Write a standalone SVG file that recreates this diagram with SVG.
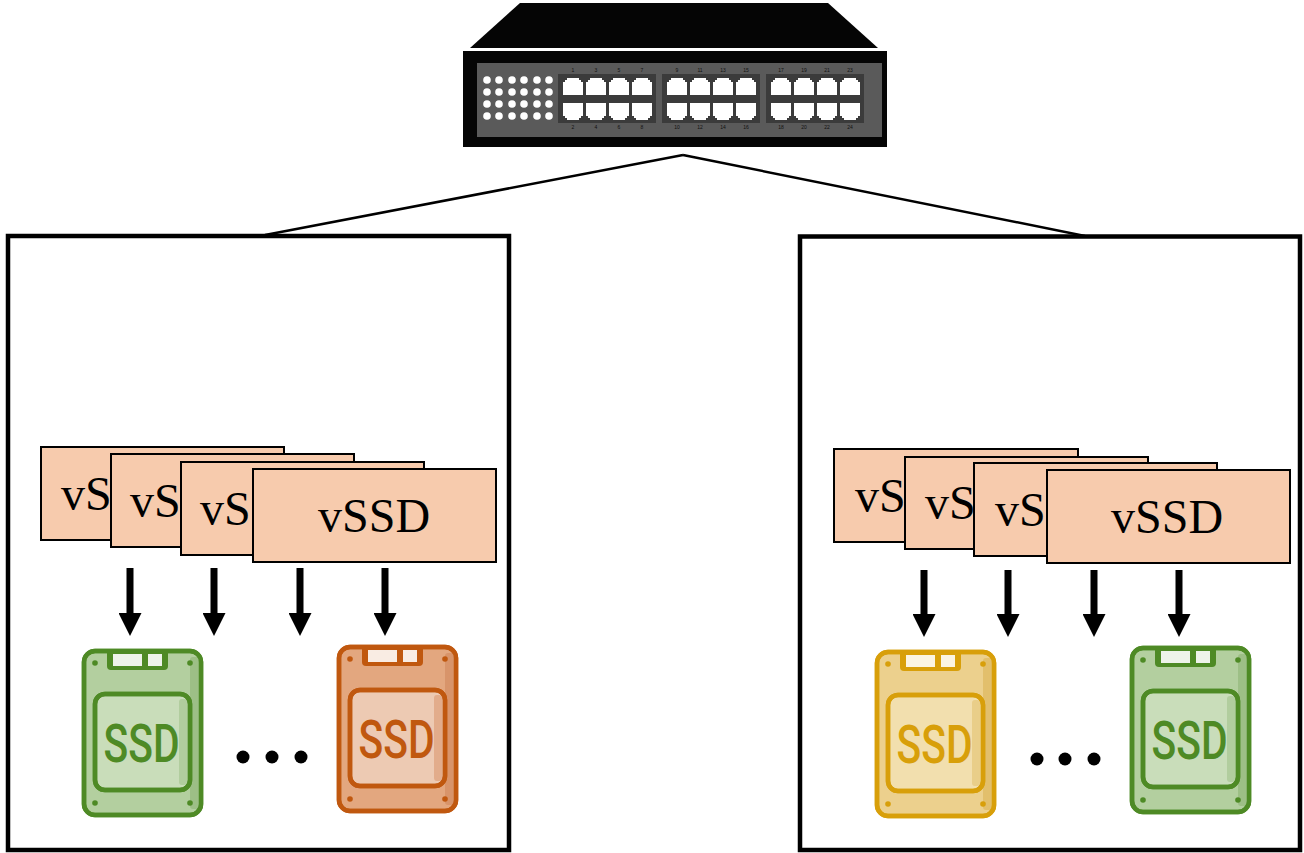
<svg xmlns="http://www.w3.org/2000/svg" xmlns:xlink="http://www.w3.org/1999/xlink" width="1304" height="853" viewBox="0 0 1304 853">
  <style>
    .host { fill: none; stroke: #000; stroke-width: 4.5; }
    .link { fill: none; stroke: #000; stroke-width: 2.5; }
    .vbox { fill: #f7cbad; stroke: #000; stroke-width: 2; }
    .vtxt { font-family: "Liberation Serif", "Times New Roman", serif; font-size: 48px; fill: #000; }
    .map { stroke: #000; stroke-width: 7; marker-end: url(#head); }
    .dot { fill: #000; }
    .panel { fill: #5a5a5a; }
    .bay { fill: #3b3b3b; }
    .led { fill: #fff; }
    .port { fill: #fff; }
    .pnum { font-family: "Liberation Sans", Arial, sans-serif; font-size: 5px; fill: #111; text-anchor: middle; }
    .ssd-body { fill: var(--body); stroke: var(--ink); stroke-width: 4.5; }
    .ssd-shade { fill: var(--shade); }
    .ssd-inner { fill: var(--inner); stroke: var(--ink); stroke-width: 4.5; }
    .ssd-ink { fill: var(--ink); }
    .ssd-light { fill: var(--light); }
    .ssd-label { font-family: Roboto, "DejaVu Sans", sans-serif; font-weight: 500; font-size: 53px; fill: var(--ink); text-anchor: middle; }
    .green { --ink: #4e8a25; --body: #b3cf9f; --shade: #9dbf86; --inner: #c9ddba; --light: #eef3ea; }
    .orange { --ink: #c0580f; --body: #e3a77f; --shade: #d8946a; --inner: #edcab3; --light: #f9ece3; }
    .yellow { --ink: #d89f0a; --body: #ecd08d; --shade: #e2bf6c; --inner: #f2dfae; --light: #fbf4e2; }
  </style>
  <defs>
    <marker id="head" viewBox="0 0 23 23" refX="0" refY="11.5" markerWidth="23" markerHeight="23" markerUnits="userSpaceOnUse" orient="auto">
      <path d="M0,0 L23,11.5 L0,23 Z" fill="#000"/>
    </marker>
    <!-- RJ45 sockets: tab up (upper row) and tab down (lower row) -->
    <path id="portUp" class="port" d="M4,0 H16 V2 H18 V4 H20 V17 H0 V4 H2 V2 H4 Z"/>
    <path id="portDn" class="port" d="M0,0 H20 V13 H18 V15 H16 V17 H4 V15 H2 V13 H0 Z"/>
    <!-- 2.5" SSD icon, 121 x 168 -->
    <symbol id="ssd" viewBox="0 0 121 168" width="121" height="168" overflow="visible">
      <rect class="ssd-body" x="2" y="2" width="117" height="164" rx="11"/>
      <rect class="ssd-shade" x="108" y="8" width="9" height="152" rx="3"/>
      <rect class="ssd-body" x="2" y="2" width="117" height="164" rx="11" style="fill:none"/>
      <path class="ssd-ink" d="M25,1 H86 V17 Q86,21 82,21 H29 Q25,21 25,17 Z"/>
      <rect class="ssd-light" x="31" y="5" width="29" height="12"/>
      <rect class="ssd-light" x="66" y="5" width="14" height="12"/>
      <circle class="ssd-ink" cx="13" cy="14" r="2.8"/>
      <circle class="ssd-ink" cx="108" cy="14" r="2.8"/>
      <circle class="ssd-ink" cx="13" cy="154" r="2.8"/>
      <circle class="ssd-ink" cx="108" cy="154" r="2.8"/>
      <rect class="ssd-inner" x="13" y="45" width="95" height="96" rx="10"/>
      <rect class="ssd-shade" x="97" y="50" width="8" height="86" rx="3" style="opacity:0.55"/>
      <rect class="ssd-inner" x="13" y="45" width="95" height="96" rx="10" style="fill:none"/>
      <text class="ssd-label" x="59.5" y="113" textLength="76" lengthAdjust="spacingAndGlyphs">SSD</text>
    </symbol>
  </defs>

  <!-- 24-port switch -->
  <g id="switch">
    <polygon points="520,3 828,3 878,48 470,48" fill="#050505"/>
    <rect x="463" y="51" width="424" height="96" fill="#050505"/>
    <rect class="panel" x="477" y="63" width="405" height="74"/>
    <g>
      <circle class="led" cx="487" cy="80" r="3.8"/><circle class="led" cx="499" cy="80" r="3.8"/><circle class="led" cx="512" cy="80" r="3.8"/><circle class="led" cx="524" cy="80" r="3.8"/><circle class="led" cx="537" cy="80" r="3.8"/><circle class="led" cx="549" cy="80" r="3.8"/>
      <circle class="led" cx="487" cy="92" r="3.8"/><circle class="led" cx="499" cy="92" r="3.8"/><circle class="led" cx="512" cy="92" r="3.8"/><circle class="led" cx="524" cy="92" r="3.8"/><circle class="led" cx="537" cy="92" r="3.8"/><circle class="led" cx="549" cy="92" r="3.8"/>
      <circle class="led" cx="487" cy="104" r="3.8"/><circle class="led" cx="499" cy="104" r="3.8"/><circle class="led" cx="512" cy="104" r="3.8"/><circle class="led" cx="524" cy="104" r="3.8"/><circle class="led" cx="537" cy="104" r="3.8"/><circle class="led" cx="549" cy="104" r="3.8"/>
      <circle class="led" cx="487" cy="116" r="3.8"/><circle class="led" cx="499" cy="116" r="3.8"/><circle class="led" cx="512" cy="116" r="3.8"/><circle class="led" cx="524" cy="116" r="3.8"/><circle class="led" cx="537" cy="116" r="3.8"/><circle class="led" cx="549" cy="116" r="3.8"/>
    </g>
    <g transform="translate(558,0)">
      <rect class="bay" x="0" y="74" width="98" height="49"/>
      <use href="#portUp" x="5" y="78"/><use href="#portUp" x="28" y="78"/><use href="#portUp" x="51" y="78"/><use href="#portUp" x="74" y="78"/>
      <use href="#portDn" x="5" y="103"/><use href="#portDn" x="28" y="103"/><use href="#portDn" x="51" y="103"/><use href="#portDn" x="74" y="103"/>
      <text class="pnum" x="15" y="72">1</text><text class="pnum" x="38" y="72">3</text><text class="pnum" x="61" y="72">5</text><text class="pnum" x="84" y="72">7</text>
      <text class="pnum" x="15" y="129">2</text><text class="pnum" x="38" y="129">4</text><text class="pnum" x="61" y="129">6</text><text class="pnum" x="84" y="129">8</text>
    </g>
    <g transform="translate(662,0)">
      <rect class="bay" x="0" y="74" width="98" height="49"/>
      <use href="#portUp" x="5" y="78"/><use href="#portUp" x="28" y="78"/><use href="#portUp" x="51" y="78"/><use href="#portUp" x="74" y="78"/>
      <use href="#portDn" x="5" y="103"/><use href="#portDn" x="28" y="103"/><use href="#portDn" x="51" y="103"/><use href="#portDn" x="74" y="103"/>
      <text class="pnum" x="15" y="72">9</text><text class="pnum" x="38" y="72">11</text><text class="pnum" x="61" y="72">13</text><text class="pnum" x="84" y="72">15</text>
      <text class="pnum" x="15" y="129">10</text><text class="pnum" x="38" y="129">12</text><text class="pnum" x="61" y="129">14</text><text class="pnum" x="84" y="129">16</text>
    </g>
    <g transform="translate(766,0)">
      <rect class="bay" x="0" y="74" width="98" height="49"/>
      <use href="#portUp" x="5" y="78"/><use href="#portUp" x="28" y="78"/><use href="#portUp" x="51" y="78"/><use href="#portUp" x="74" y="78"/>
      <use href="#portDn" x="5" y="103"/><use href="#portDn" x="28" y="103"/><use href="#portDn" x="51" y="103"/><use href="#portDn" x="74" y="103"/>
      <text class="pnum" x="15" y="72">17</text><text class="pnum" x="38" y="72">19</text><text class="pnum" x="61" y="72">21</text><text class="pnum" x="84" y="72">23</text>
      <text class="pnum" x="15" y="129">18</text><text class="pnum" x="38" y="129">20</text><text class="pnum" x="61" y="129">22</text><text class="pnum" x="84" y="129">24</text>
    </g>
  </g>

  <!-- uplinks from the switch to each server -->
  <g id="connectors">
    <line class="link" x1="683" y1="155" x2="265" y2="235"/>
    <line class="link" x1="683" y1="155" x2="1085" y2="236"/>
  </g>

  <!-- server A -->
  <g id="server-a">
    <rect class="host" x="8" y="236" width="501" height="614"/>
    <g id="server-a-vssd">
      <rect class="vbox" x="41" y="447" width="243" height="93"/>
      <text class="vtxt" x="61" y="510">vS</text>
      <rect class="vbox" x="111" y="454" width="243" height="93"/>
      <text class="vtxt" x="130" y="517">vS</text>
      <rect class="vbox" x="181" y="462" width="243" height="93"/>
      <text class="vtxt" x="200" y="525">vS</text>
      <rect class="vbox" x="253" y="469" width="243" height="93"/>
      <text class="vtxt" x="318" y="532">vSSD</text>
    </g>
    <g id="server-a-maps">
      <line class="map" x1="130" y1="568" x2="130" y2="613"/>
      <line class="map" x1="214" y1="568" x2="214" y2="613"/>
      <line class="map" x1="300" y1="568" x2="300" y2="613"/>
      <line class="map" x1="385" y1="568" x2="385" y2="613"/>
    </g>
    <use id="server-a-ssd1" class="green" href="#ssd" x="82" y="649"/>
    <circle class="dot" cx="243" cy="757" r="6.5"/>
    <circle class="dot" cx="272" cy="757" r="6.5"/>
    <circle class="dot" cx="301" cy="757" r="6.5"/>
    <use id="server-a-ssd2" class="orange" href="#ssd" x="337" y="645"/>
  </g>

  <!-- server B -->
  <g id="server-b">
    <rect class="host" x="800" y="236.5" width="500" height="613.5"/>
    <g id="server-b-vssd">
      <rect class="vbox" x="834" y="449" width="244" height="93"/>
      <text class="vtxt" x="855" y="512">vS</text>
      <rect class="vbox" x="905" y="457" width="243" height="92"/>
      <text class="vtxt" x="925" y="519">vS</text>
      <rect class="vbox" x="974" y="463" width="243" height="93"/>
      <text class="vtxt" x="995" y="526">vS</text>
      <rect class="vbox" x="1047" y="470" width="243" height="93"/>
      <text class="vtxt" x="1111" y="533">vSSD</text>
    </g>
    <g id="server-b-maps">
      <line class="map" x1="924" y1="570" x2="924" y2="614"/>
      <line class="map" x1="1008" y1="570" x2="1008" y2="614"/>
      <line class="map" x1="1094" y1="570" x2="1094" y2="614"/>
      <line class="map" x1="1179" y1="570" x2="1179" y2="614"/>
    </g>
    <use id="server-b-ssd1" class="yellow" href="#ssd" x="875" y="650"/>
    <circle class="dot" cx="1037" cy="759" r="6.5"/>
    <circle class="dot" cx="1065" cy="759" r="6.5"/>
    <circle class="dot" cx="1094" cy="759" r="6.5"/>
    <use id="server-b-ssd2" class="green" href="#ssd" x="1130" y="646"/>
  </g>
</svg>
